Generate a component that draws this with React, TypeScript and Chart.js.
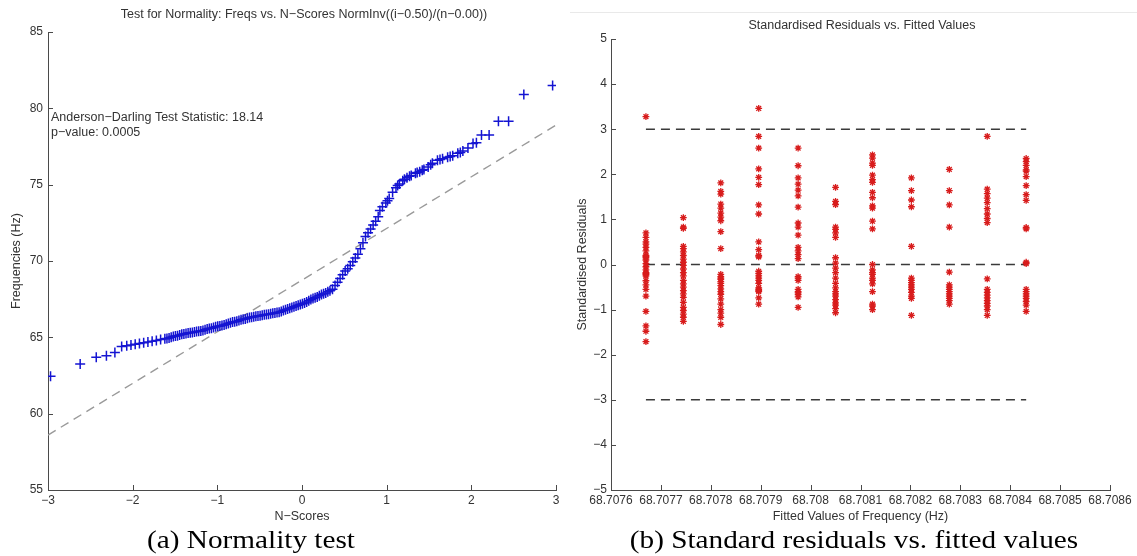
import React, { useEffect, useRef } from "react";
import { Chart, registerables } from "chart.js";

Chart.register(...registerables);

// ---------- Left panel: normal probability plot ----------
const nScores = [
  -2.97, -2.62, -2.43, -2.31, -2.21, -2.13, -2.07, -2.02, -1.97, -1.92, -1.87, -1.82, -1.77, -1.72,
  -1.67, -1.62, -1.57, -1.52, -1.47, -1.42, -1.37, -1.32, -1.27, -1.22, -1.17, -1.12, -1.07, -1.02,
  -0.97, -0.92, -0.87, -0.82, -0.77, -0.72, -0.67, -0.62, -0.57, -0.52, -0.47, -0.42, -0.37, -0.32,
  -0.27, -0.22, -0.17, -0.12, -0.07, -0.02, 0.03, 0.08, 0.13, 0.18, 0.23, 0.28, 0.33, 0.36, 0.39,
  0.42, 0.45, 0.48, 0.51, 0.54, 0.57, 0.6, 0.63, 0.66, 0.69, 0.72, 0.75, 0.78, 0.81, 0.84, 0.87, 0.9,
  0.92, 0.95, 0.99, 1.03, 1.07, 1.11, 1.15, 1.19, 1.24, 1.29, 1.34, 1.39, 1.44, 1.49, 1.54, 1.6,
  1.66, 1.72, 1.78, 1.84, 1.9, 1.96, 2.02, 2.06, 2.12, 2.21, 2.32, 2.44, 2.62, 2.96,
];
const freqs = [
  62.45, 63.25, 63.7, 63.8, 64.0, 64.4, 64.45, 64.5, 64.55, 64.6, 64.65, 64.7, 64.75, 64.8,
  64.85, 64.9, 64.95, 65.05, 65.1, 65.2, 65.25, 65.3, 65.35, 65.4, 65.45, 65.55, 65.6, 65.7,
  65.75, 65.8, 65.9, 66.0, 66.05, 66.15, 66.2, 66.3, 66.35, 66.4, 66.45, 66.5, 66.55, 66.6,
  66.65, 66.75, 66.85, 66.95, 67.05, 67.15, 67.25, 67.4, 67.55, 67.65, 67.8, 67.9, 68.05, 68.15, 68.4,
  68.6, 68.85, 69.1, 69.35, 69.5, 69.7, 69.95, 70.2, 70.45, 70.8, 71.2, 71.6, 71.85, 72.1, 72.35, 72.6, 72.9,
  73.3, 73.55, 73.8, 74.1, 74.5, 74.8, 75.05, 75.25, 75.45, 75.6, 75.75, 75.85, 76.0, 76.15, 76.4, 76.6,
  76.7, 76.8, 76.9, 77.05, 77.2, 77.4, 77.7, 77.75, 78.25, 78.25, 79.15, 79.15, 80.9, 81.5,
];
const nScoresDense = [
  -1.595, -1.545, -1.495, -1.445, -1.395, -1.345, -1.295, -1.245, -1.195, -1.145, -1.095, -1.045,
  -0.995, -0.945, -0.895, -0.845, -0.795, -0.745, -0.695, -0.645, -0.595, -0.545, -0.495, -0.445,
  -0.395, -0.345, -0.295, -0.245, -0.195, -0.145, -0.095, -0.045, 0.005, 0.055, 0.105, 0.155, 0.205,
  0.255, 0.305, 1.01, 1.13, 1.21, 1.27, 1.36, 1.42, 1.52, 1.63, 1.75, 1.87,
];
const freqsDense = [
  64.92, 65.0, 65.08, 65.15, 65.22, 65.28, 65.32, 65.38, 65.42, 65.5, 65.58, 65.65,
  65.72, 65.78, 65.85, 65.95, 66.02, 66.1, 66.18, 66.25, 66.32, 66.38, 66.42, 66.48,
  66.52, 66.58, 66.62, 66.7, 66.8, 66.9, 67.0, 67.1, 67.2, 67.32, 67.48, 67.6, 67.72,
  67.85, 67.98, 73.95, 74.95, 75.35, 75.55, 75.8, 75.95, 76.3, 76.65, 76.85, 77.1,
];
const refLineX = [-3, 3];
const refLineY = [58.6, 78.9];
const leftXTicks = [-3, -2, -1, 0, 1, 2, 3];
const leftXTickLabels = ["\u22123", "\u22122", "\u22121", "0", "1", "2", "3"];
const leftYTicks = [55, 60, 65, 70, 75, 80, 85];
const leftYTickLabels = ["55", "60", "65", "70", "75", "80", "85"];
const leftTitle = "Test for Normality: Freqs vs. N\u2212Scores NormInv((i\u22120.50)/(n\u22120.00))";
const leftXTitle = "N\u2212Scores";
const leftYTitle = "Frequencies (Hz)";
const annotationLines = ["Anderson\u2212Darling Test Statistic: 18.14", "p\u2212value: 0.0005"];
const annotationY = [79.4, 78.4];

// ---------- Right panel: standardised residuals vs fitted ----------
const fittedValues = [
  68.70767, 68.707745, 68.70782, 68.707896, 68.707975, 68.70805, 68.708124, 68.708202, 68.708278,
  68.708354, 68.708432,
];
const res1 = [3.28, 0.7, 0.6, 0.5, 0.45, 0.38, 0.3, 0.2, 0.18, 0.15, 0.1, 0.02, -0.05, -0.12, -0.18, -0.2, -0.22, -0.25, -0.36, -0.45, -0.55, -0.7, -1.04, -1.36, -1.48, -1.71];
const res2 = [1.04, 0.83, 0.8, 0.4, 0.35, 0.28, 0.2, 0.12, 0.05, -0.02, -0.1, -0.18, -0.25, -0.35, -0.43, -0.5, -0.58, -0.65, -0.73, -0.84, -0.95, -1.02, -1.1, -1.17, -1.26];
const res3 = [1.81, 1.62, 1.56, 1.34, 1.25, 1.14, 1.05, 0.97, 0.73, 0.35, -0.22, -0.27, -0.3, -0.33, -0.38, -0.42, -0.47, -0.54, -0.6, -0.66, -0.76, -0.88, -1.0, -1.08, -1.17, -1.33];
const res4 = [3.46, 2.84, 2.58, 2.12, 1.93, 1.77, 1.32, 1.12, 0.5, 0.33, 0.2, 0.17, -0.15, -0.2, -0.25, -0.3, -0.35, -0.42, -0.52, -0.55, -0.58, -0.6, -0.74, -0.88];
const res5 = [2.58, 2.19, 1.92, 1.78, 1.65, 1.52, 1.27, 0.92, 0.83, 0.65, 0.38, 0.3, 0.22, 0.13, -0.27, -0.3, -0.35, -0.55, -0.6, -0.63, -0.67, -0.72, -0.95];
const res6 = [1.71, 1.4, 1.33, 0.83, 0.78, 0.7, 0.6, 0.15, 0.03, -0.08, -0.18, -0.3, -0.42, -0.52, -0.6, -0.65, -0.7, -0.78, -0.85, -0.9, -0.98, -1.07];
const res7 = [2.43, 2.36, 2.25, 2.2, 1.98, 1.88, 1.82, 1.6, 1.48, 1.3, 1.25, 0.96, 0.79, 0.0, -0.12, -0.18, -0.22, -0.3, -0.35, -0.43, -0.6, -0.88, -0.92, -1.0];
const res8 = [1.92, 1.64, 1.43, 1.28, 0.4, -0.3, -0.35, -0.4, -0.45, -0.5, -0.55, -0.62, -0.7, -0.75, -1.13];
const res9 = [2.11, 1.64, 1.32, 0.83, -0.17, -0.45, -0.5, -0.55, -0.6, -0.65, -0.7, -0.75, -0.8, -0.88];
const res10 = [2.84, 1.67, 1.57, 1.47, 1.37, 1.24, 1.12, 1.02, 0.93, -0.32, -0.55, -0.62, -0.68, -0.74, -0.8, -0.86, -0.92, -1.0, -1.13];
const res11 = [2.35, 2.28, 2.2, 2.1, 2.07, 1.95, 1.75, 1.55, 1.42, 0.82, 0.79, 0.05, 0.02, -0.55, -0.6, -0.65, -0.7, -0.75, -0.82, -0.9, -1.04];
const residualColumns = [res1, res2, res3, res4, res5, res6, res7, res8, res9, res10, res11];
const limitLines = [3, 0, -3];
const rightXTicks = [
  68.7076, 68.7077, 68.7078, 68.7079, 68.708, 68.7081, 68.7082, 68.7083, 68.7084, 68.7085, 68.7086,
];
const rightXTickLabels = [
  "68.7076", "68.7077", "68.7078", "68.7079", "68.708", "68.7081", "68.7082", "68.7083", "68.7084",
  "68.7085", "68.7086",
];
const rightYTicks = [-5, -4, -3, -2, -1, 0, 1, 2, 3, 4, 5];
const rightYTickLabels = ["\u22125", "\u22124", "\u22123", "\u22122", "\u22121", "0", "1", "2", "3", "4", "5"];
const rightTitle = "Standardised Residuals vs. Fitted Values";
const rightXTitle = "Fitted Values of Frequency (Hz)";
const rightYTitle = "Standardised Residuals";

const captionA = "(a) Normality test";
const captionB = "(b) Standard residuals vs. fitted values";

// ---------- styling ----------
const SANS = '"Liberation Sans", Arial, Helvetica, sans-serif';
const SERIF = '"Liberation Serif", "Times New Roman", serif';
const AXIS = "#4a4a4a";
const TEXT = "#333333";

const inwardTicks = {
  id: "inwardTicks",
  afterDraw(chart: any) {
    const { ctx, chartArea, scales } = chart;
    const xs = scales.x;
    const ys = scales.y;
    ctx.save();
    ctx.strokeStyle = AXIS;
    ctx.lineWidth = 1;
    ctx.beginPath();
    xs.ticks.forEach((t: any) => {
      const px = Math.round(xs.getPixelForValue(t.value)) + 0.5;
      ctx.moveTo(px, chartArea.bottom);
      ctx.lineTo(px, chartArea.bottom - 5);
    });
    ys.ticks.forEach((t: any) => {
      const py = Math.round(ys.getPixelForValue(t.value)) + 0.5;
      ctx.moveTo(chartArea.left, py);
      ctx.lineTo(chartArea.left + 5, py);
    });
    ctx.stroke();
    ctx.restore();
  },
};

const annotationPlugin = {
  id: "adAnnotation",
  afterDatasetsDraw(chart: any) {
    const { ctx, scales } = chart;
    const opts = chart.options.plugins.adAnnotation;
    if (!opts) return;
    ctx.save();
    ctx.font = `12.5px ${SANS}`;
    ctx.fillStyle = TEXT;
    ctx.textBaseline = "middle";
    ctx.textAlign = "left";
    const x = scales.x.getPixelForValue(opts.x) + 3;
    opts.lines.forEach((line: string, i: number) => {
      ctx.fillText(line, x, scales.y.getPixelForValue(opts.ys[i]));
    });
    ctx.restore();
  },
};

function axisCommon(tickValues: number[], extra: any) {
  return {
    type: "linear",
    grid: { display: false, drawTicks: false },
    border: { display: true, color: AXIS, width: 1 },
    afterBuildTicks: (scale: any) => {
      scale.ticks = tickValues.map((v) => ({ value: v }));
    },
    ...extra,
  };
}

function tickOpts(labels: string[], padding: number) {
  return {
    autoSkip: false,
    maxRotation: 0,
    minRotation: 0,
    padding,
    color: TEXT,
    font: { family: SANS, size: 12 },
    callback: (_v: any, i: number) => labels[i],
  };
}

function titleOpts(text: string, padding: any) {
  return {
    display: true,
    text,
    color: TEXT,
    font: { family: SANS, size: 12.5 },
    padding,
  };
}

function LeftChart() {
  const ref = useRef<HTMLCanvasElement | null>(null);
  useEffect(() => {
    if (!ref.current) return;
    const points = nScores
      .map((x, i) => ({ x, y: freqs[i] }))
      .concat(nScoresDense.map((x, i) => ({ x, y: freqsDense[i] })));
    const chart = new Chart(ref.current, {
      type: "scatter",
      data: {
        datasets: [
          {
            label: "Freqs",
            data: points,
            pointStyle: "cross",
            pointRadius: 5,
            pointBorderWidth: 1.5,
            borderColor: "#1414d2",
            backgroundColor: "#1414d2",
          },
          {
            label: "Reference",
            data: refLineX.map((x, i) => ({ x, y: refLineY[i] })),
            showLine: true,
            pointRadius: 0,
            borderColor: "#9a9a9a",
            borderWidth: 1.4,
            borderDash: [9, 6],
          },
        ],
      },
      options: {
        animation: false,
        responsive: false,
        maintainAspectRatio: false,
        events: [],
        layout: { padding: { left: 0, right: 14, top: 32, bottom: 0 } },
        plugins: {
          legend: { display: false },
          tooltip: { enabled: false },
          adAnnotation: { x: -3, ys: annotationY, lines: annotationLines },
        } as any,
        scales: {
          x: axisCommon(leftXTicks, {
            min: -3,
            max: 3,
            afterFit: (s: any) => {
              s.height = 40;
            },
            ticks: tickOpts(leftXTickLabels, 3),
            title: titleOpts(leftXTitle, { top: 0, bottom: 5.5 }),
          }),
          y: axisCommon(leftYTicks, {
            min: 55,
            max: 85,
            afterFit: (s: any) => {
              s.width = 48;
            },
            ticks: tickOpts(leftYTickLabels, 5),
            title: titleOpts(leftYTitle, { top: 9, bottom: 0 }),
          }),
        } as any,
      },
      plugins: [inwardTicks, annotationPlugin],
    } as any);
    return () => chart.destroy();
  }, []);
  return (
    <canvas
      ref={ref}
      width={570}
      height={530}
      style={{ position: "absolute", left: 0, top: 0, width: 570, height: 530 }}
    />
  );
}

function RightChart() {
  const ref = useRef<HTMLCanvasElement | null>(null);
  useEffect(() => {
    if (!ref.current) return;
    const residualPoints = residualColumns.flatMap((col, i) =>
      col.map((r) => ({ x: fittedValues[i], y: r }))
    );
    const first = fittedValues[0];
    const last = fittedValues[fittedValues.length - 1];
    const lineSets = limitLines.map((lv) => ({
      label: `limit ${lv}`,
      data: [
        { x: first, y: lv },
        { x: last, y: lv },
      ],
      showLine: true,
      pointRadius: 0,
      borderColor: "#3a3a3a",
      borderWidth: 1.4,
      borderDash: [9, 6],
    }));
    const chart = new Chart(ref.current, {
      type: "scatter",
      data: {
        datasets: [
          {
            label: "Residuals",
            data: residualPoints,
            pointStyle: "star",
            pointRadius: 3.4,
            pointBorderWidth: 1.3,
            borderColor: "#d81c1c",
            backgroundColor: "#d81c1c",
          },
          ...lineSets,
        ],
      },
      options: {
        animation: false,
        responsive: false,
        maintainAspectRatio: false,
        events: [],
        layout: { padding: { left: 0, right: 27, top: 39, bottom: 0 } },
        plugins: {
          legend: { display: false },
          tooltip: { enabled: false },
        },
        scales: {
          x: axisCommon(rightXTicks, {
            min: 68.7076,
            max: 68.7086,
            afterFit: (s: any) => {
              s.height = 40;
            },
            ticks: tickOpts(rightXTickLabels, 3),
            title: titleOpts(rightXTitle, { top: 0, bottom: 5.5 }),
          }),
          y: axisCommon(rightYTicks, {
            min: -5,
            max: 5,
            afterFit: (s: any) => {
              s.width = 41;
            },
            ticks: tickOpts(rightYTickLabels, 4),
            title: titleOpts(rightYTitle, { top: 5.5, bottom: 0 }),
          }),
        } as any,
      },
      plugins: [inwardTicks],
    } as any);
    return () => chart.destroy();
  }, []);
  return (
    <canvas
      ref={ref}
      width={567}
      height={530}
      style={{ position: "absolute", left: 570, top: 0, width: 567, height: 530 }}
    />
  );
}

function CenteredText(props: {
  text: string;
  cx: number;
  top: number;
  font: string;
  size: number;
  color: string;
  scaleX?: number;
}) {
  const { text, cx, top, font, size, color, scaleX } = props;
  return (
    <div
      style={{
        position: "absolute",
        left: cx - 400,
        width: 800,
        top,
        textAlign: "center",
        fontFamily: font,
        fontSize: size,
        lineHeight: `${Math.round(size * 1.2)}px`,
        color,
        whiteSpace: "nowrap",
        transform: scaleX ? `scaleX(${scaleX})` : undefined,
        pointerEvents: "none",
      }}
    >
      {text}
    </div>
  );
}

export default function App() {
  return (
    <div
      style={{
        position: "fixed",
        left: 0,
        top: 0,
        width: 1137,
        height: 556,
        background: "#ffffff",
        overflow: "hidden",
      }}
    >
      <div
        style={{
          position: "absolute",
          left: 570,
          top: 12,
          width: 567,
          height: 1,
          background: "#e9e9e9",
        }}
      />
      <LeftChart />
      <RightChart />
      <CenteredText text={leftTitle} cx={304} top={7} font={SANS} size={12.5} color={TEXT} />
      <CenteredText text={rightTitle} cx={862} top={18} font={SANS} size={12.5} color={TEXT} />
      <CenteredText text={captionA} cx={251} top={525} font={SERIF} size={25} color="#000" scaleX={1.17} />
      <CenteredText text={captionB} cx={854} top={525} font={SERIF} size={25} color="#000" scaleX={1.17} />
    </div>
  );
}
